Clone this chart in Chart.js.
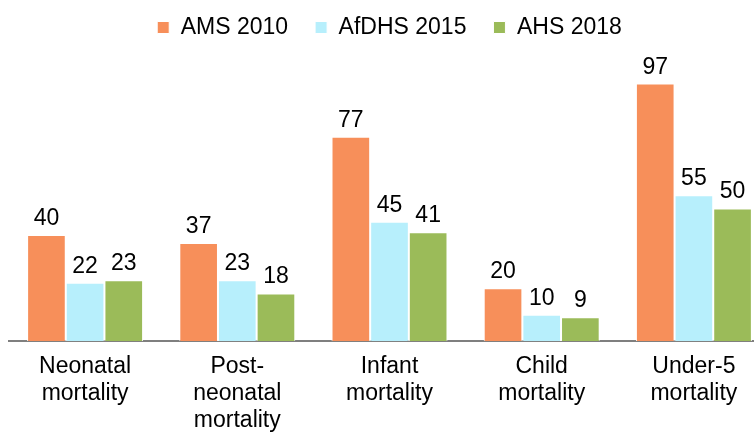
<!DOCTYPE html>
<html>
<head>
<meta charset="utf-8">
<script src="https://cdn.jsdelivr.net/npm/chart.js@4/dist/chart.umd.min.js"></script>
<style>
	html, body { margin: 0; padding: 0; background: #fff; overflow: hidden; }
	#wrap { width: 770px; height: 435px; }
</style>
</head>
<body>
<div id="wrap"><canvas id="myChart"></canvas></div>
<script>
// dades del gràfic
let categories = [
	['Neonatal', 'mortality'],
	['Post-', 'neonatal', 'mortality'],
	['Infant', 'mortality'],
	['Child', 'mortality'],
	['Under-5', 'mortality']
];
let series = ['AMS 2010', 'AfDHS 2015', 'AHS 2018'];
let ams2010 = [40, 37, 77, 20, 97];
let afdhs2015 = [22, 23, 45, 10, 55];
let ahs2018 = [23, 18, 41, 9, 50];
let colors = ['#F78F5A', '#B7EFFC', '#9BBB59'];

const FONT = 'Liberation Sans, Arial, sans-serif';

// etiquetes de valor sobre les barres
const valueLabels = {
	id: 'valueLabels',
	afterDatasetsDraw(chart) {
		const ctx = chart.ctx;
		ctx.save();
		ctx.font = '23px ' + FONT;
		ctx.fillStyle = '#000';
		ctx.textAlign = 'center';
		ctx.textBaseline = 'alphabetic';
		chart.data.datasets.forEach((ds, i) => {
			chart.getDatasetMeta(i).data.forEach((bar, j) => {
				ctx.fillText(ds.data[j], bar.x, bar.y - 10);
			});
		});
		ctx.restore();
	}
};

const data = {
	labels: categories,
	datasets: [ams2010, afdhs2015, ahs2018].map((vals, i) => ({
		label: series[i],
		data: vals,
		backgroundColor: colors[i],
		borderColor: '#fff',
		borderWidth: 1,
		barPercentage: 1,
		categoryPercentage: 0.762
	}))
};

const config = {
	type: 'bar',
	data: data,
	options: {
		responsive: true,
		maintainAspectRatio: false,
		animation: false,
		layout: { padding: { left: 9, right: 0, top: -11, bottom: -11 } },
		plugins: {
			tooltip: { enabled: false },
			legend: {
				position: 'top',
				labels: {
					boxWidth: 12,
					boxHeight: 12,
					padding: 27,
					color: '#000',
					font: { family: FONT, size: 23 }
				}
			}
		},
		scales: {
			x: {
				grid: { display: false, drawTicks: false },
				border: { display: true, color: '#7f7f7f', width: 2 },
				ticks: {
					color: '#000',
					padding: 12,
					maxRotation: 0,
					autoSkip: false,
					font: { family: FONT, size: 23, lineHeight: 1.17 }
				}
			},
			y: {
				display: false,
				min: 0,
				max: 110
			}
		}
	},
	plugins: [valueLabels]
};

const myChart = new Chart(document.getElementById('myChart'), config);
</script>
</body>
</html>
